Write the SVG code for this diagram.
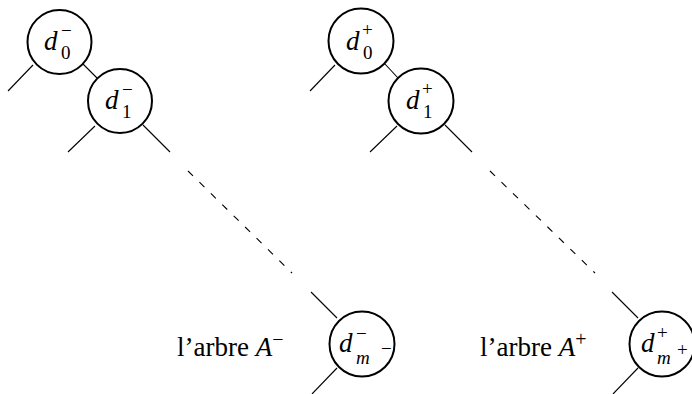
<svg xmlns="http://www.w3.org/2000/svg" width="692" height="394" viewBox="0 0 692 394">
<style>
.node{fill:#fff;stroke:#000;stroke-width:2}
.edge{stroke:#000;stroke-width:1.1;fill:none}
.dash{stroke:#000;stroke-width:1.1;fill:none;stroke-dasharray:7 9}
.m{font-family:"Liberation Serif",serif;font-style:italic;font-size:27px;fill:#000}
.s{font-family:"Liberation Serif",serif;font-size:19px;fill:#000}
.si{font-family:"Liberation Serif",serif;font-style:italic;font-size:19px;fill:#000}
.lab{font-family:"Liberation Serif",serif;font-size:27px;fill:#000}
</style>
<rect width="692" height="394" fill="#fff"/>
<g id="connectors">
<line class="edge" x1="33" y1="65" x2="8" y2="91"/>
<line class="edge" x1="83" y1="64" x2="97" y2="78"/>
<line class="edge" x1="95" y1="126" x2="68" y2="152"/>
<line class="edge" x1="143" y1="125" x2="170" y2="152"/>
<line class="dash" x1="188" y1="171" x2="292" y2="273"/>
<line class="edge" x1="311" y1="292" x2="337" y2="318"/>
<line class="edge" x1="337" y1="368" x2="312" y2="394"/>
<line class="edge" x1="335" y1="65" x2="310" y2="91"/>
<line class="edge" x1="385" y1="64" x2="398" y2="78"/>
<line class="edge" x1="397" y1="126" x2="370" y2="152"/>
<line class="edge" x1="445" y1="125" x2="472" y2="152"/>
<line class="dash" x1="490" y1="171" x2="595" y2="273"/>
<line class="edge" x1="612" y1="292" x2="638" y2="318"/>
<line class="edge" x1="638" y1="368" x2="613" y2="394"/>
</g>
<g id="d0m">
<circle class="node" cx="59.5" cy="42" r="32"/>
<text class="m" x="44" y="50">d</text><text class="s" x="61" y="59">0</text><text class="s" x="61" y="37">−</text>
</g>
<g id="d1m">
<circle class="node" cx="120" cy="101" r="32"/>
<text class="m" x="105" y="109">d</text><text class="s" x="122" y="118">1</text><text class="s" x="122" y="96">−</text>
</g>
<g id="dmm">
<circle class="node" cx="362" cy="344" r="32.5"/>
<text class="m" x="339" y="352">d</text><text class="s" x="356" y="340">−</text><text class="si" x="356" y="364">m</text><text class="s" x="381" y="355">−</text>
</g>
<g id="d0p">
<circle class="node" cx="361" cy="41" r="32.5"/>
<text class="m" x="346" y="50">d</text><text class="s" x="363" y="59">0</text><text class="s" x="362" y="36">+</text>
</g>
<g id="d1p">
<circle class="node" cx="421" cy="101" r="32.5"/>
<text class="m" x="406" y="109">d</text><text class="s" x="423" y="118">1</text><text class="s" x="422" y="95">+</text>
</g>
<g id="dmp">
<circle class="node" cx="662" cy="344" r="32.5"/>
<text class="m" x="641" y="352">d</text><text class="s" x="657" y="339">+</text><text class="si" x="657" y="364">m</text><text class="s" x="677" y="356">+</text>
</g>
<text class="lab" x="177" y="356">l’arbre <tspan font-style="italic">A</tspan><tspan font-size="20" dy="-10">−</tspan></text>
<text class="lab" x="480" y="356">l’arbre <tspan font-style="italic">A</tspan><tspan font-size="20" dy="-10">+</tspan></text>
</svg>
